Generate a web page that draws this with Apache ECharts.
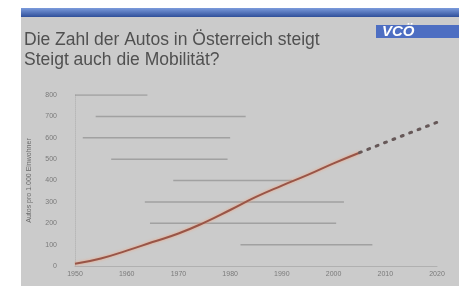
<!DOCTYPE html>
<html>
<head>
<meta charset="utf-8">
<script src="https://cdn.jsdelivr.net/npm/echarts@6/dist/echarts.min.js"></script>
<style>
  html, body { margin: 0; padding: 0; background: #ffffff; }
  #chart { width: 459px; height: 286px; }
</style>
</head>
<body>
<div id="chart"></div>
<script>
// Autos pro 1.000 Einwohner
var years = [1950, 1955, 1960, 1965, 1970, 1975, 1980, 1985, 1990, 1995, 2000, 2005];
var cars = [10, 35, 72, 112, 152, 203, 262, 323, 376, 426, 480, 530];
// forecast, dotted
var forecastYears = [2005, 2010, 2015, 2020];
var forecastCars = [530, 578, 625, 672];
// the faded horizontal grid lines: [level, from year, to year]
var gridSpans = [
  [800, 1950, 1964],
  [700, 1954, 1983],
  [600, 1951.5, 1980],
  [500, 1957, 1979.5],
  [400, 1969, 1992],
  [300, 1963.5, 2002],
  [200, 1964.5, 2000.5],
  [100, 1982, 2007.5]
];
var xTicks = [1950, 1960, 1970, 1980, 1990, 2000, 2010, 2020];

var chart = echarts.init(document.getElementById("chart"));

function pairs(xs, ys) {
  return xs.map(function (x, i) { return [x, ys[i]]; });
}

var series = gridSpans.map(function (s) {
  return {
    type: "line",
    silent: true,
    symbol: "none",
    z: 1,
    lineStyle: { color: "#8f8f8f", width: 1.5, opacity: 0.7 },
    data: [[s[1], s[0]], [s[2], s[0]]]
  };
});

series.push({
  name: "Autos",
  type: "line",
  smooth: true,
  symbol: "none",
  z: 5,
  lineStyle: {
    color: "#985548",
    width: 2,
    shadowColor: "#f3a27c",
    shadowBlur: 3
  },
  data: pairs(years, cars)
});
series.push({
  name: "Prognose",
  type: "line",
  symbol: "none",
  z: 5,
  lineStyle: { color: "#665858", width: 3, type: [2, 7], cap: "round" },
  data: pairs(forecastYears, forecastCars)
});

chart.setOption({
  animation: false,
  backgroundColor: "#ffffff",
  graphic: [
    { type: "rect", z: -10, shape: { x: 21, y: 8, width: 438, height: 278 }, style: { fill: "#cbcbcb" } },
    {
      type: "rect", z: -9, shape: { x: 21, y: 8, width: 438, height: 9 },
      style: {
        fill: {
          type: "linear", x: 0, y: 0, x2: 0, y2: 1,
          colorStops: [{ offset: 0, color: "#7b9bdc" }, { offset: 1, color: "#2f4f9a" }]
        }
      }
    },
    { type: "rect", z: -9, shape: { x: 376, y: 25, width: 83, height: 13 }, style: { fill: "#4d6ec2" } },
    {
      type: "text", left: 382, top: 24,
      style: { text: "VCÖ", fill: "#ffffff", font: "bold italic 15px 'Liberation Sans'" }
    }
  ],
  title: {
    text: "Die Zahl der Autos in Österreich steigt\nSteigt auch die Mobilität?",
    left: 19,
    top: 25,
    textStyle: {
      color: "#505050",
      fontFamily: "Liberation Sans",
      fontWeight: "normal",
      fontSize: 17.5,
      lineHeight: 20
    }
  },
  grid: { left: 75, right: 22, top: 95, bottom: 20 },
  xAxis: {
    type: "value",
    min: 1950,
    max: 2020,
    interval: 10,
    axisLine: { show: true, lineStyle: { color: "#b0b0b0", width: 1 } },
    axisTick: { show: false },
    splitLine: { show: false },
    axisLabel: {
      color: "#7a7a7a",
      fontSize: 7,
      margin: 5,
      formatter: function (v) { return xTicks.indexOf(v) >= 0 ? String(v) : ""; }
    }
  },
  yAxis: {
    type: "value",
    min: 0,
    max: 800,
    interval: 100,
    name: "Autos pro 1.000 Einwohner",
    nameLocation: "middle",
    nameGap: 42,
    nameTextStyle: { color: "#6a6a6a", fontSize: 7 },
    axisLine: { show: true, lineStyle: { color: "#b8b8b8", type: "dotted" } },
    axisTick: { show: false },
    splitLine: { show: false },
    axisLabel: { color: "#7a7a7a", fontSize: 7, margin: 18 }
  },
  series: series
});
</script>
</body>
</html>
